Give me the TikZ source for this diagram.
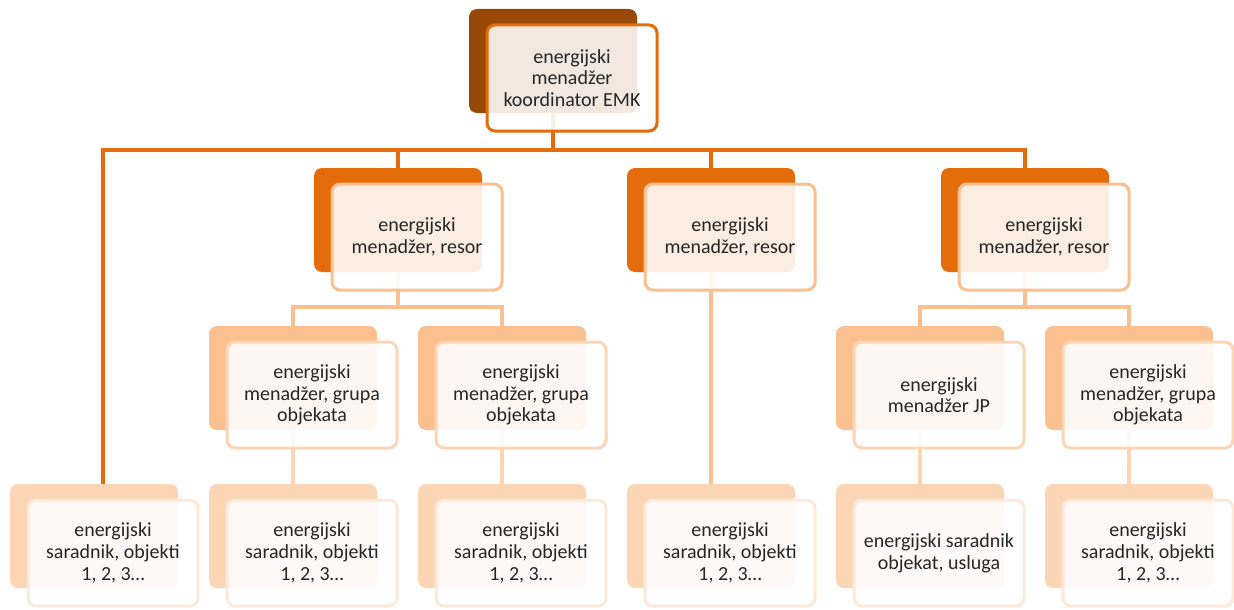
\documentclass[tikz,border=0pt]{standalone}
\usepackage{fontspec}
\setmainfont{Carlito}
\usepackage{tikz}
\usetikzlibrary{positioning,calc,backgrounds}
\definecolor{Rust}{HTML}{984807}
\definecolor{Orange}{HTML}{E46C0A}
\definecolor{Peach}{HTML}{FAC090}
\definecolor{Apricot}{HTML}{FCD5B5}
\definecolor{Blush}{HTML}{FDE9D9}
\definecolor{Ink}{HTML}{262626}

\begin{document}
\begin{tikzpicture}[x=1pt,y=-1pt,
  backbox/.style={rectangle,rounded corners=8pt,fill=#1,minimum width=168pt,minimum height=104pt,inner sep=0pt},
  frontbox/.style={rectangle,rounded corners=8pt,draw=#1,line width=3pt,fill=white,fill opacity=0.88,text opacity=1,text=Ink,
    minimum width=170pt,minimum height=106pt,inner sep=0pt,align=center,font=\fontsize{20}{21.7}\selectfont},
  wire/.style={draw=#1,line width=3.5pt}]
  \useasboundingbox (0,0) rectangle (1234,610);
  \node[backbox=Rust] (emk-b) at (553,61) {};
  \node[frontbox=Orange] (emk) at (572,78) {energijski\\menadžer\\koordinator EMK};
  \foreach \n/\x in {resA/398,resB/711,resC/1025}{
    \node[backbox=Orange] (\n-b) at (\x,220) {};
    \node[frontbox=Peach] (\n) at (\x+19,237) {energijski\\menadžer, resor};
  }
  \foreach \n/\x in {grpA/293,grpB/502,grpC/1129}{
    \node[backbox=Peach] (\n-b) at (\x,378) {};
    \node[frontbox=Apricot] (\n) at (\x+19,395) {energijski\\menadžer, grupa\\objekata};
  }
  \node[backbox=Peach] (jp-b) at (920,378) {};
  \node[frontbox=Apricot] (jp) at (939,395) {energijski\\menadžer JP};
  \foreach \n/\x in {sarA/94,sarB/293,sarC/502,sarD/711,sarE/1129}{
    \node[backbox=Apricot] (\n-b) at (\x,536) {};
    \node[frontbox=Blush] (\n) at (\x+19,553) {energijski\\saradnik, objekti\\1, 2, 3…};
  }
  \node[backbox=Apricot] (usl-b) at (920,536) {};
  \node[frontbox=Blush] (usl) at (939,553) {energijski saradnik\\objekat, usluga};
  % veze
  \begin{scope}[on background layer]
    \draw[wire=Orange] (emk-b.south) -- ++(0,37) coordinate (emk-bus);
    \draw[wire=Orange] ([xshift=9pt]sarA-b.north) |- (emk-bus) -| (resC-b.north);
    \foreach \n in {resA,resB} \draw[wire=Orange] (\n-b.north) -- (\n-b.north |- emk-bus);
    \draw[wire=Peach] (resA-b.south) -- ++(0,35) coordinate (resA-bus);
    \draw[wire=Peach] (grpA-b.north) |- (resA-bus) -| (grpB-b.north);
    \draw[wire=Peach] (resC-b.south) -- ++(0,35) coordinate (resC-bus);
    \draw[wire=Peach] (jp-b.north) |- (resC-bus) -| (grpC-b.north);
    \draw[wire=Peach] (resB-b.south) -- (sarD-b.north);
    \foreach \a/\b in {grpA/sarB,grpB/sarC,jp/usl,grpC/sarE} \draw[wire=Apricot] (\a-b.south) -- (\b-b.north);
  \end{scope}
\end{tikzpicture}
\end{document}
